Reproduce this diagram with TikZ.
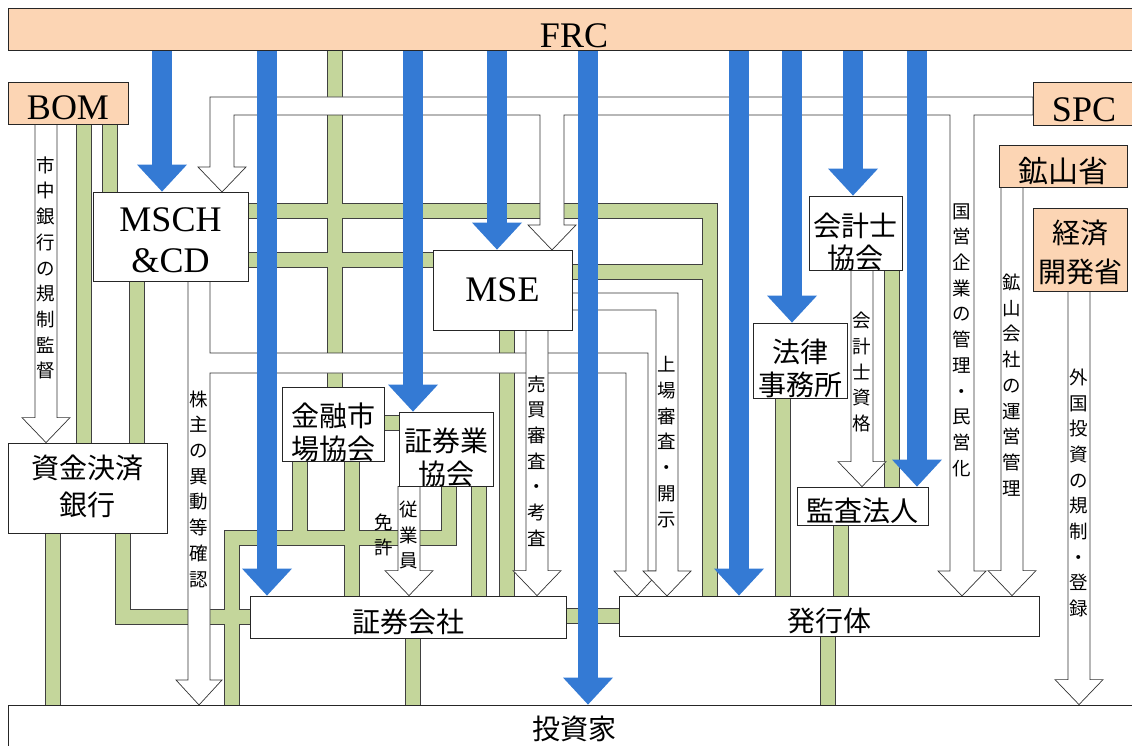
\documentclass[tikz,border=0pt]{standalone}
\usepackage{fontspec}
\setmainfont{Liberation Serif}
\newfontfamily\jp{Noto Sans CJK JP}
\usetikzlibrary{arrows.meta}

\definecolor{peach}{RGB}{252,213,180}
\definecolor{frcblue}{RGB}{52,122,212}
\definecolor{linkgreen}{RGB}{196,214,155}

\pgfdeclarelayer{greens}
\pgfdeclarelayer{hollows}
\pgfdeclarelayer{blues}
\pgfsetlayers{greens,hollows,blues,main}

\tikzset{
  box/.style={draw=black!85, line width=0.8pt, fill=white, inner sep=0pt, align=center, font=\jp\fontsize{28}{33}\selectfont},
  orgbox/.style={box, fill=peach},
  latin/.style={font=\fontsize{36}{40}\selectfont},
  jpone/.style={text height=31pt, text depth=0pt},
  jptwo/.style={text height=70pt, text depth=0pt},
  vlabel/.style={inner sep=0pt, font=\jp\fontsize{18.5}{25.7}\selectfont},
  hollowarrow/.style={fill=white, draw=black!80, line width=0.7pt, line join=miter},
  bluearrow/.style={draw=frcblue, line width=20pt, -{Triangle[width=50pt,length=27pt,line width=0pt]}},
  linkedge/.style={draw=black!75, line width=15.6pt, line join=miter},
  linkfill/.style={draw=linkgreen, line width=14.2pt, line join=miter}
}

% vertical text, one character per line
\makeatletter
\newcommand\tate[1]{\vbox{\baselineskip=25.7pt\lineskiplimit=-20pt\tate@step#1\@nil}}
\def\tate@step#1#2\@nil{\hbox{#1}\ifx\relax#2\relax\else\tate@step#2\@nil\fi}
\makeatother

% straight hollow arrow: x, source anchor, target anchor
\newcommand\hollow[3]{%
  \coordinate (hx) at (#1,0);
  \path (#2 -| hx) coordinate (hs) (#3 -| hx) coordinate (ht) ([yshift=25pt]ht) coordinate (hb);
  \filldraw[hollowarrow] ([xshift=-11pt]hs) -- ([xshift=-11pt]hb) -- ([xshift=-24pt]hb) -- (ht)
    -- ([xshift=24pt]hb) -- ([xshift=11pt]hb) -- ([xshift=11pt]hs) -- cycle;}

% green links, drawn twice: edge first, then fill
\newcommand\greenlinks[1]{%
  \foreach \gx/\src/\dst in {335/frc/kinyu, 84/bom/bank, 110/bom/msch, 137/msch/bank, 53/bank/toshika,
      352/kinyu/shoken, 479/shokyo/shoken, 507/mse/shoken, 413/shoken/toshika,
      783/horitsu/hakko, 892/kaikei/kansa, 841/kansa/hakko, 828/hakko/toshika}
    {\coordinate (gc) at (\gx,0);
     \draw[#1] (\src.south -| gc) -- (\dst.north -| gc);}
  \foreach \gy/\src/\dst in {260/msch/mse, 423/kinyu/shokyo, 616/shoken/hakko}
    {\coordinate (gc) at (0,\gy);
     \draw[#1] (\src.east |- gc) -- (\dst.west |- gc);}
  \draw[#1] (bank.south -| bendA) |- (shoken.west);
  \draw[#1] (msch.east |- bendB) -| (hakko.north -| bendB);
  \draw[#1] (mse.east |- bendC) -- (bendC);
  \draw[#1] (shokyo.south -| bendF) |- (bendD) -- (toshika.north -| bendD);
  \draw[#1] (kinyu.south -| bendE) -- (bendE);
}

\begin{document}
\begin{tikzpicture}[x=1pt, y=-1pt]
\useasboundingbox (0,0) rectangle (1132,746);

% regulators
\node[orgbox, latin, minimum width=1132pt, minimum height=42pt, text height=38pt, text depth=0pt] (frc) at (574,29) {FRC};
\node[orgbox, latin, minimum width=120pt, minimum height=42pt, text height=34pt, text depth=0pt] (bom) at (68,103) {BOM};
\node[orgbox, latin, minimum width=102pt, minimum height=43pt, text height=36pt, text depth=0pt] (spc) at (1084,103.5) {SPC};
\node[orgbox, font=\jp\fontsize{30}{33}\selectfont, text height=33pt, text depth=0pt, minimum width=128pt, minimum height=42pt] (kozan) at (1063,166) {鉱山省};
\node[orgbox, font=\jp\fontsize{28}{39}\selectfont, text height=66pt, text depth=0pt, minimum width=94pt, minimum height=83pt] (keizai) at (1080,249.5) {経済\\開発省};

% market bodies
\node[box, latin, text height=71pt, text depth=0pt, minimum width=155pt, minimum height=89pt] (msch) at (170.5,236.5) {MSCH\\\&CD};
\node[box, latin, minimum width=139pt, minimum height=80pt] (mse) at (502.5,290) {MSE};
\node[box, jptwo, font=\jp\fontsize{28}{32}\selectfont, minimum width=93pt, minimum height=74pt] (kaikei) at (855.5,233) {会計士\\協会};
\node[box, jptwo, minimum width=94pt, minimum height=75pt] (horitsu) at (800,360.5) {法律\\事務所};
\node[box, jptwo, minimum width=102pt, minimum height=74pt] (kinyu) at (333,424) {金融市\\場協会};
\node[box, jptwo, minimum width=94pt, minimum height=74pt] (shokyo) at (446,449) {証券業\\協会};
\node[box, font=\jp\fontsize{28}{37}\selectfont, text height=55pt, text depth=0pt, minimum width=159pt, minimum height=90pt] (bank) at (87.5,488) {資金決済\\銀行};
\node[box, jpone, minimum width=131pt, minimum height=38pt] (kansa) at (862.5,506) {監査法人};
\node[box, jpone, minimum width=316pt, minimum height=42pt] (shoken) at (408,617) {証券会社};
\node[box, jpone, minimum width=420pt, minimum height=40pt] (hakko) at (829,616) {発行体};
\node[box, text height=21pt, text depth=0pt, minimum width=1132pt, minimum height=47pt] (toshika) at (574,728.5) {投資家};

% bends of the green links
\coordinate (bendA) at (123,616);
\coordinate (bendB) at (710,211);
\coordinate (bendC) at (710,272);
\coordinate (bendD) at (232,538);
\coordinate (bendE) at (300,538);
\coordinate (bendF) at (449,538);

\begin{pgfonlayer}{greens}
  \greenlinks{linkedge}
  \greenlinks{linkfill}
\end{pgfonlayer}

\begin{pgfonlayer}{hollows}
  % SPC -> MSCH&CD, MSE, issuers
  \filldraw[hollowarrow] (1033,97) -- (210,97) -- (210,167) -- (198,167) -- (222,192) -- (246,167) -- (234,167)
    -- (234,115) -- (540,115) -- (540,225) -- (528,225) -- (552,250) -- (576,225) -- (564,225)
    -- (564,115) -- (950,115) -- (950,571) -- (938,571) -- (962,596) -- (986,571) -- (974,571)
    -- (974,115) -- (1033,115) -- cycle;
  % MSCH&CD -> investors, issuers
  \filldraw[hollowarrow] (188,281) -- (188,680) -- (176,680) -- (199,705) -- (222,680) -- (210,680)
    -- (210,373) -- (626,373) -- (626,571) -- (614,571) -- (637,596) -- (660,571) -- (648,571)
    -- (648,353) -- (210,353) -- (210,281) -- cycle;
  % MSE -> issuers
  \filldraw[hollowarrow] (572,293) -- (678,293) -- (678,571) -- (691,571) -- (667,596) -- (643,571)
    -- (656,571) -- (656,310) -- (572,310) -- cycle;
  \hollow{537}{mse.south}{shoken.north}
  \hollow{46}{bom.south}{bank.north}
  \hollow{862}{kaikei.south}{kansa.north}
  \hollow{1012}{kozan.south}{hakko.north}
  \hollow{1079}{keizai.south}{toshika.north}
  \hollow{409}{shokyo.south}{shoken.north}
\end{pgfonlayer}

\begin{pgfonlayer}{blues}
  \foreach \bx/\dst in {162/msch, 267/shoken, 413/shokyo, 497/mse, 588/toshika,
      739/hakko, 792/horitsu, 853/kaikei, 917/kansa}
    {\coordinate (bc) at (\bx,0);
     \draw[bluearrow] (frc.south -| bc) -- (\dst.north -| bc);}
\end{pgfonlayer}

% labels of the hollow arrows
\node[vlabel] (shichu) at (46,268) {\tate{市中銀行の規制監督}};
\node[vlabel] (kabunushi) at (199,489) {\tate{株主の異動等確認}};
\node[vlabel] (baibai) at (537,461) {\tate{売買審査・考査}};
\node[vlabel] (jojo) at (667,442) {\tate{上場審査・開示}};
\node[vlabel] (kokuei) at (962,340) {\tate{国営企業の管理・民営化}};
\node[vlabel] (kozankaisha) at (1012,385) {\tate{鉱山会社の運営管理}};
\node[vlabel] (gaikoku) at (1079,493) {\tate{外国投資の規制・登録}};
\node[vlabel] (shikaku) at (862,372) {\tate{会計士資格}};
\node[vlabel] (jugyoin) at (409,535) {\tate{従業員}};
\node[vlabel] (menkyo) at (384,535) {\tate{免許}};

\end{tikzpicture}
\end{document}
